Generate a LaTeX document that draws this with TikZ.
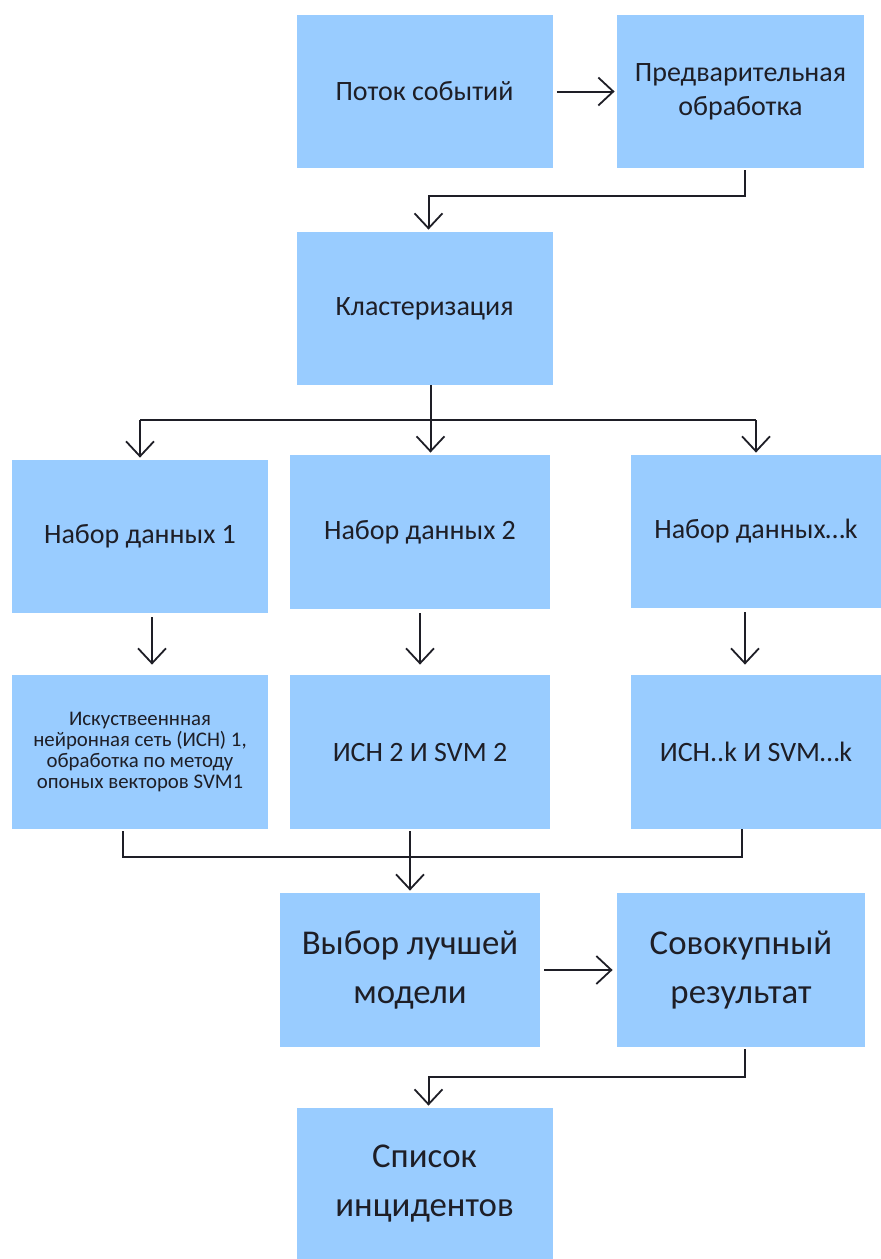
\documentclass[tikz,border=0pt]{standalone}
\usepackage{fontspec}
\setmainfont{Carlito}
\usetikzlibrary{arrows.meta}
\definecolor{boxblue}{RGB}{153,204,255}
\definecolor{inkgray}{RGB}{30,30,38}

\begin{document}
\begin{tikzpicture}[x=0.5pt,y=-0.5pt,
  blok/.style={fill=boxblue, inner sep=0pt, align=center, text=inkgray,
    minimum width=128pt, minimum height=76.5pt, font=\fontsize{14}{17}\selectfont},
  small/.style={font=\fontsize{10.4}{10.6}\selectfont},
  big/.style={font=\fontsize{17.4}{24.5}\selectfont},
  link/.style={draw=inkgray, line width=1pt},
  arr/.style={link, -{Straight Barb[length=7.5pt,width=14pt,line width=0.9pt]}}]
\useasboundingbox (0,0) rectangle (881,1259);
\node [blok] (stream) at (424.5,91.5) {Поток событий};
\node [blok, minimum width=123.5pt] (pre) at (740.5,91.5) {Предварительная\\обработка};
\node [blok] (clust) at (424.5,308.5) {Кластеризация};
\node [blok] (set1) at (140,536.5) {Набор данных 1};
\node [blok, minimum width=130pt, minimum height=77pt] (set2) at (420,532) {Набор данных 2};
\node [blok, minimum width=125pt] (setk) at (756,531.5) {Набор данных…k};
\node [blok, minimum height=77pt, small] (ann1) at (140,752) {Искуствееннная\\нейронная сеть (ИСН) 1,\\обработка по методу\\опоных векторов SVM1};
\node [blok, minimum width=130pt, minimum height=77pt] (ann2) at (420,752) {ИСН 2 И SVM 2};
\node [blok, minimum width=125pt, minimum height=77pt] (annk) at (756,752) {ИСН..k И SVM…k};
\node [blok, minimum width=130pt, minimum height=77pt, big] (best) at (410,970) {Выбор лучшей\\модели};
\node [blok, minimum width=124pt, minimum height=77pt, big] (total) at (741,970) {Совокупный\\результат};
\node [blok, minimum height=75.5pt, big] (list) at (424.5,1183.5) {Список\\инцидентов};
\draw [arr, shorten <=2pt, shorten >=1pt] (stream) -- (pre);
\draw [arr, shorten <=1pt, shorten >=1pt] ([xshift=2pt]pre.south) -- ++(0,28) -| ([xshift=2pt]clust.north);
\draw [link] (set1.north |- 0,420) -- (setk.north |- 0,420);
\draw [arr, shorten >=1pt] ([xshift=3pt]clust.south) -- ([xshift=3pt]clust.south |- set2.north);
\draw [arr, shorten >=1pt] (set1.north |- 0,420) -- (set1.north);
\draw [arr, shorten >=1pt] (setk.north |- 0,420) -- (setk.north);
\draw [arr, shorten <=2pt, shorten >=5pt] ([xshift=6pt]set1.south) -- ([xshift=6pt]ann1.north);
\draw [arr, shorten <=2pt, shorten >=5pt] (set2.south) -- (ann2.north);
\draw [arr, shorten <=2pt, shorten >=5pt] ([xshift=-5.5pt]setk.south) -- ([xshift=-5.5pt]annk.north);
\draw [link, shorten <=1pt] ([xshift=-8.5pt]ann1.south) -- ++(0,28) -| ([xshift=-7pt]annk.south);
\draw [arr, shorten <=1pt, shorten >=1pt] (ann2.south -| best.north) -- (best.north);
\draw [arr, shorten <=2pt, shorten >=2pt] (best) -- (total);
\draw [arr, shorten <=1pt, shorten >=1pt] ([xshift=2pt]total.south) -- ++(0,30) -| ([xshift=2pt]list.north);
\end{tikzpicture}
\end{document}
